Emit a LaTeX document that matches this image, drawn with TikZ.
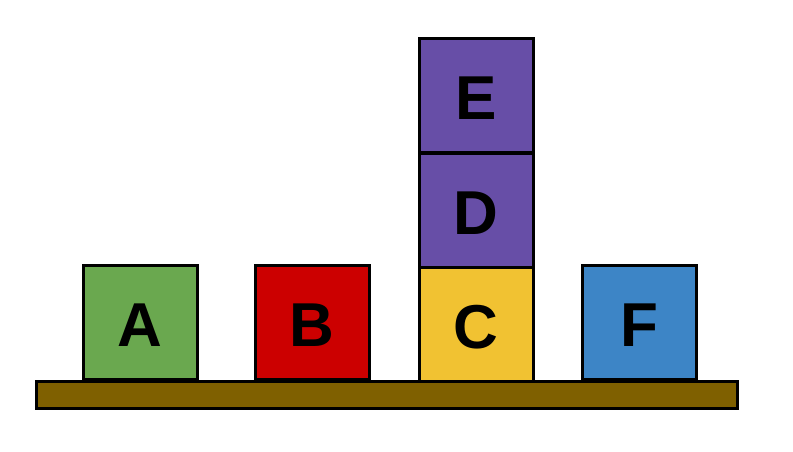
\documentclass[tikz,border=0pt]{standalone}
\usepackage{fontspec}
\setmainfont{Liberation Sans}
\definecolor{cA}{HTML}{6AA84F}
\definecolor{cB}{HTML}{CC0000}
\definecolor{cC}{HTML}{F1C232}
\definecolor{cD}{HTML}{674EA7}
\definecolor{cF}{HTML}{3D85C6}
\definecolor{cT}{HTML}{7F6000}
\newcommand\blockletter[1]{\raisebox{-3pt}[\height][\depth]{#1}}
\begin{document}
\begin{tikzpicture}[x=1pt,y=-1pt,
  blockbox/.style={draw=black,line width=2.6pt,minimum width=114pt,minimum height=114pt,inner sep=0pt,font=\fontsize{62}{62}\selectfont\bfseries,anchor=north west},
  tablebox/.style={draw=black,line width=2.6pt,fill=cT,inner sep=0pt,anchor=north west,minimum width=701pt,minimum height=27pt}]
\useasboundingbox (0,0) rectangle (793,451);
\node[tablebox] (T) at (35,380) {};
\node[blockbox,fill=cA] (A) at (82,264) {\blockletter{A}};
\node[blockbox,fill=cB] (B) at (254,264) {\blockletter{B}};
\node[blockbox,fill=cC] (C) at (418,266) {\blockletter{C}};
\node[blockbox,fill=cD] (D) at (418,152) {\blockletter{D}};
\node[blockbox,fill=cD] (E) at (418,37) {\blockletter{E}};
\node[blockbox,fill=cF] (F) at (581,264) {\blockletter{F}};
\end{tikzpicture}
\end{document}
